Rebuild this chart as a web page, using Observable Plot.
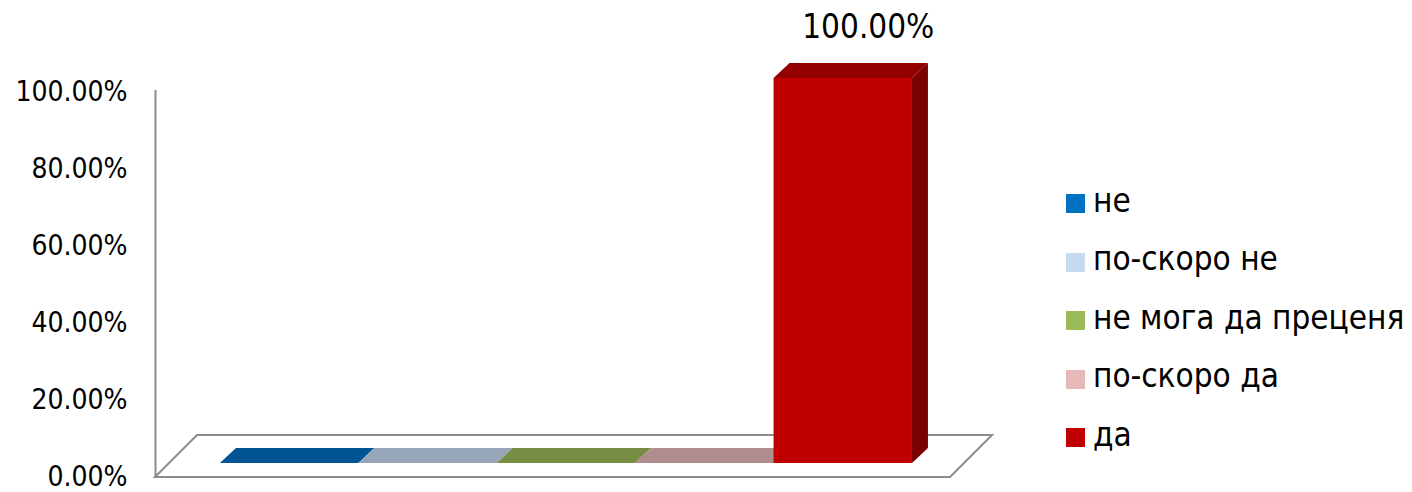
<!DOCTYPE html>
<html><head><meta charset="utf-8">
<script src="https://cdn.jsdelivr.net/npm/d3@7"></script>
<script src="https://cdn.jsdelivr.net/npm/@observablehq/plot@0.6"></script>
<style>
body{margin:0;background:#fff;}
#wrap{position:relative;width:1412px;height:492px;overflow:hidden;font-family:"DejaVu Sans Condensed","DejaVu Sans",sans-serif;}
#wrap svg{position:absolute;left:0;top:0;}
.lg-sw{position:absolute;width:19px;height:19px;}
.lg-tx{position:absolute;font-size:33px;line-height:40px;white-space:nowrap;color:#000;}
</style></head><body><div id="wrap"></div>
<script>
const categories = ["не", "по-скоро не", "не мога да преценя", "по-скоро да", "да"];
const values = [0, 0, 0, 0, 1.0];
const colors = ["#0070C0", "#C6D9F1", "#9BBB59", "#E6B9B8", "#C00000"];
const yTicks = [0, 0.2, 0.4, 0.6, 0.8, 1.0];

const data = categories.map((category, i) => ({category, i, value: values[i], color: colors[i]}));
const fmt = d3.format(".2%");
function shade(c, k) { const r = d3.rgb(c); return d3.rgb(r.r * k, r.g * k, r.b * k).formatHex(); }

const X0 = -0.368, X1 = 5.376;
const FRONT = [14, -14], BACK = [30, -29], FLOOR = [42, -42];
const GRAY = "#8c8c8c";

function floorMark(index, scales) {
  const {x, y} = scales;
  const g = d3.create("svg:g");
  const fl = x(X0), fr = x(X1), b = y(0);
  g.append("path")
    .attr("d", `M${fl},${b}L${fr},${b}L${fr + FLOOR[0]},${b + FLOOR[1]}L${fl + FLOOR[0]},${b + FLOOR[1]}Z`)
    .attr("fill", "#fff").attr("stroke", GRAY).attr("stroke-width", 2);
  return g.node();
}

function facesMark(index, scales) {
  const {x, y} = scales;
  const g = d3.create("svg:g");
  for (const d of data) {
    const xl = x(d.i), xr = x(d.i + 1), yt = y(d.value), yb = y(0);
    if (d.value > 0) {
      g.append("path")
        .attr("d", `M${xr + FRONT[0]},${yt + FRONT[1]}L${xr + BACK[0]},${yt + BACK[1]}L${xr + BACK[0]},${yb + BACK[1]}L${xr + FRONT[0]},${yb + FRONT[1]}Z`)
        .attr("fill", shade(d.color, 0.64));
    }
    g.append("path")
      .attr("d", `M${xl + FRONT[0]},${yt + FRONT[1]}L${xr + FRONT[0]},${yt + FRONT[1]}L${xr + BACK[0]},${yt + BACK[1]}L${xl + BACK[0]},${yt + BACK[1]}Z`)
      .attr("fill", shade(d.color, 0.76));
  }
  return g.node();
}

const chart = Plot.plot({
  width: 1412, height: 492,
  marginLeft: 155, marginRight: 462, marginTop: 92, marginBottom: 15,
  style: {fontFamily: '"DejaVu Sans Condensed","DejaVu Sans",sans-serif', color: "#000", background: "transparent", overflow: "visible"},
  x: {type: "linear", domain: [X0, X1], axis: null},
  y: {domain: [0, 1], axis: null},
  color: {type: "identity"},
  marks: [
    floorMark,
    facesMark,
    Plot.rect(data, {x1: "i", x2: d => d.i + 1, y1: 0, y2: "value", fill: "color", dx: FRONT[0], dy: FRONT[1]}),
    Plot.ruleX([X0], {y1: 0, y2: 1.005, stroke: GRAY, strokeWidth: 2}),
    Plot.axisY(yTicks, {anchor: "left", tickFormat: fmt, tickSize: 0, tickPadding: 28, fontSize: 28, label: null}),
    Plot.text(data.filter(d => d.value > 0), {x: d => d.i + 0.5, y: "value", text: d => fmt(d.value), dx: 39, dy: -65, fontSize: 33, fill: "#000"})
  ]
});
const wrap = document.getElementById("wrap");
wrap.appendChild(chart);

// legend
const rowCenters0 = 203.5, rowStep = 58.5;
categories.forEach((c, i) => {
  const cy = rowCenters0 + i * rowStep;
  const sw = document.createElement("div");
  sw.className = "lg-sw";
  sw.style.left = "1066px"; sw.style.top = (cy - 9.5) + "px";
  sw.style.background = colors[i];
  wrap.appendChild(sw);
  const tx = document.createElement("div");
  tx.className = "lg-tx";
  tx.style.left = "1093px"; tx.style.top = (cy - 23) + "px";
  tx.textContent = c;
  wrap.appendChild(tx);
});
</script></body></html>
